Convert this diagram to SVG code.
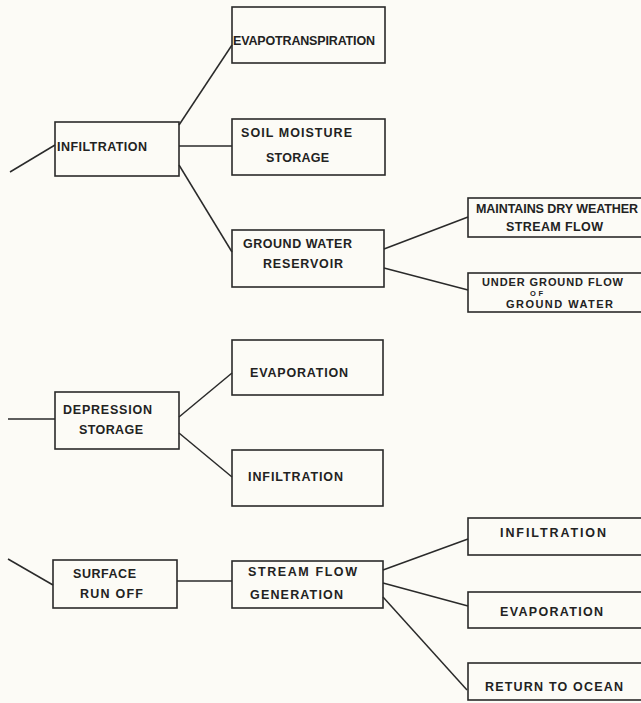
<svg xmlns="http://www.w3.org/2000/svg" width="641" height="703" viewBox="0 0 641 703">
<style>
.box{fill:none;stroke:#2a2a2a;stroke-width:1.6}
.ln{fill:none;stroke:#2a2a2a;stroke-width:1.5}
text{font-family:"Liberation Sans",Arial,sans-serif;font-size:12.5px;font-weight:bold;fill:#222}
.s11{font-size:11px}
.sm{font-size:7.5px}
</style>
<rect width="641" height="703" fill="#fcfbf6"/>
<g id="connectors">
<line class="ln" x1="10" y1="172" x2="55" y2="145"/>
<line class="ln" x1="179" y1="125" x2="232" y2="45"/>
<line class="ln" x1="179" y1="146" x2="232" y2="146"/>
<line class="ln" x1="179" y1="165" x2="232" y2="252"/>
<line class="ln" x1="384" y1="249" x2="468" y2="217"/>
<line class="ln" x1="384" y1="268" x2="468" y2="290"/>
<line class="ln" x1="8" y1="419" x2="55" y2="419"/>
<line class="ln" x1="179" y1="417" x2="232" y2="373"/>
<line class="ln" x1="179" y1="433" x2="232" y2="477"/>
<line class="ln" x1="8" y1="559" x2="53" y2="585"/>
<line class="ln" x1="177" y1="581" x2="232" y2="581"/>
<line class="ln" x1="383" y1="570" x2="468" y2="539"/>
<line class="ln" x1="383" y1="583" x2="468" y2="606"/>
<line class="ln" x1="383" y1="597" x2="467" y2="690"/>
</g>
<g id="infiltration">
<rect class="box" x="55" y="122" width="124" height="54"/>
<text x="57" y="151" textLength="90" lengthAdjust="spacing">INFILTRATION</text>
</g>
<g id="evapotranspiration">
<rect class="box" x="232" y="7" width="153" height="56"/>
<text x="233" y="45" textLength="142" lengthAdjust="spacing">EVAPOTRANSPIRATION</text>
</g>
<g id="soil-moisture">
<rect class="box" x="232" y="119" width="153" height="56"/>
<text x="241" y="137" textLength="111" lengthAdjust="spacing">SOIL  MOISTURE</text>
<text x="266" y="162" textLength="63" lengthAdjust="spacing">STORAGE</text>
</g>
<g id="ground-water">
<rect class="box" x="232" y="230" width="152" height="57"/>
<text x="243" y="248" textLength="109" lengthAdjust="spacing">GROUND WATER</text>
<text x="263" y="268" textLength="80" lengthAdjust="spacing">RESERVOIR</text>
</g>
<g id="dry-weather">
<rect class="box" x="468" y="198" width="174" height="39"/>
<text x="476" y="213" textLength="162" lengthAdjust="spacing">MAINTAINS DRY WEATHER</text>
<text x="506" y="231" textLength="97" lengthAdjust="spacing">STREAM FLOW</text>
</g>
<g id="underground-flow">
<rect class="box" x="468" y="273" width="174" height="39"/>
<text class="s11" x="482" y="286" textLength="141" lengthAdjust="spacing">UNDER  GROUND FLOW</text>
<text class="sm" x="530" y="295.5" textLength="13" lengthAdjust="spacing">OF</text>
<text class="s11" x="506" y="308" textLength="107" lengthAdjust="spacing">GROUND  WATER</text>
</g>
<g id="depression">
<rect class="box" x="55" y="392" width="124" height="57"/>
<text x="63" y="414" textLength="89" lengthAdjust="spacing">DEPRESSION</text>
<text x="79" y="434" textLength="64" lengthAdjust="spacing">STORAGE</text>
</g>
<g id="evaporation-1">
<rect class="box" x="232" y="340" width="151" height="55"/>
<text x="250" y="377" textLength="98" lengthAdjust="spacing">EVAPORATION</text>
</g>
<g id="infiltration-2">
<rect class="box" x="232" y="450" width="151" height="56"/>
<text x="248" y="481" textLength="95" lengthAdjust="spacing">INFILTRATION</text>
</g>
<g id="surface-runoff">
<rect class="box" x="53" y="560" width="124" height="48"/>
<text x="73" y="578" textLength="63" lengthAdjust="spacing">SURFACE</text>
<text x="80" y="598" textLength="63" lengthAdjust="spacing">RUN  OFF</text>
</g>
<g id="stream-flow">
<rect class="box" x="232" y="561" width="151" height="47"/>
<text x="248" y="576" textLength="109" lengthAdjust="spacing">STREAM  FLOW</text>
<text x="250" y="599" textLength="93" lengthAdjust="spacing">GENERATION</text>
</g>
<g id="infiltration-3">
<rect class="box" x="468" y="518" width="174" height="37"/>
<text x="500" y="537" textLength="106" lengthAdjust="spacing">INFILTRATION</text>
</g>
<g id="evaporation-2">
<rect class="box" x="468" y="592" width="174" height="36"/>
<text x="500" y="616" textLength="103" lengthAdjust="spacing">EVAPORATION</text>
</g>
<g id="return-ocean">
<rect class="box" x="468" y="663" width="174" height="37"/>
<text x="485" y="691" textLength="138" lengthAdjust="spacing">RETURN  TO OCEAN</text>
</g>
</svg>
